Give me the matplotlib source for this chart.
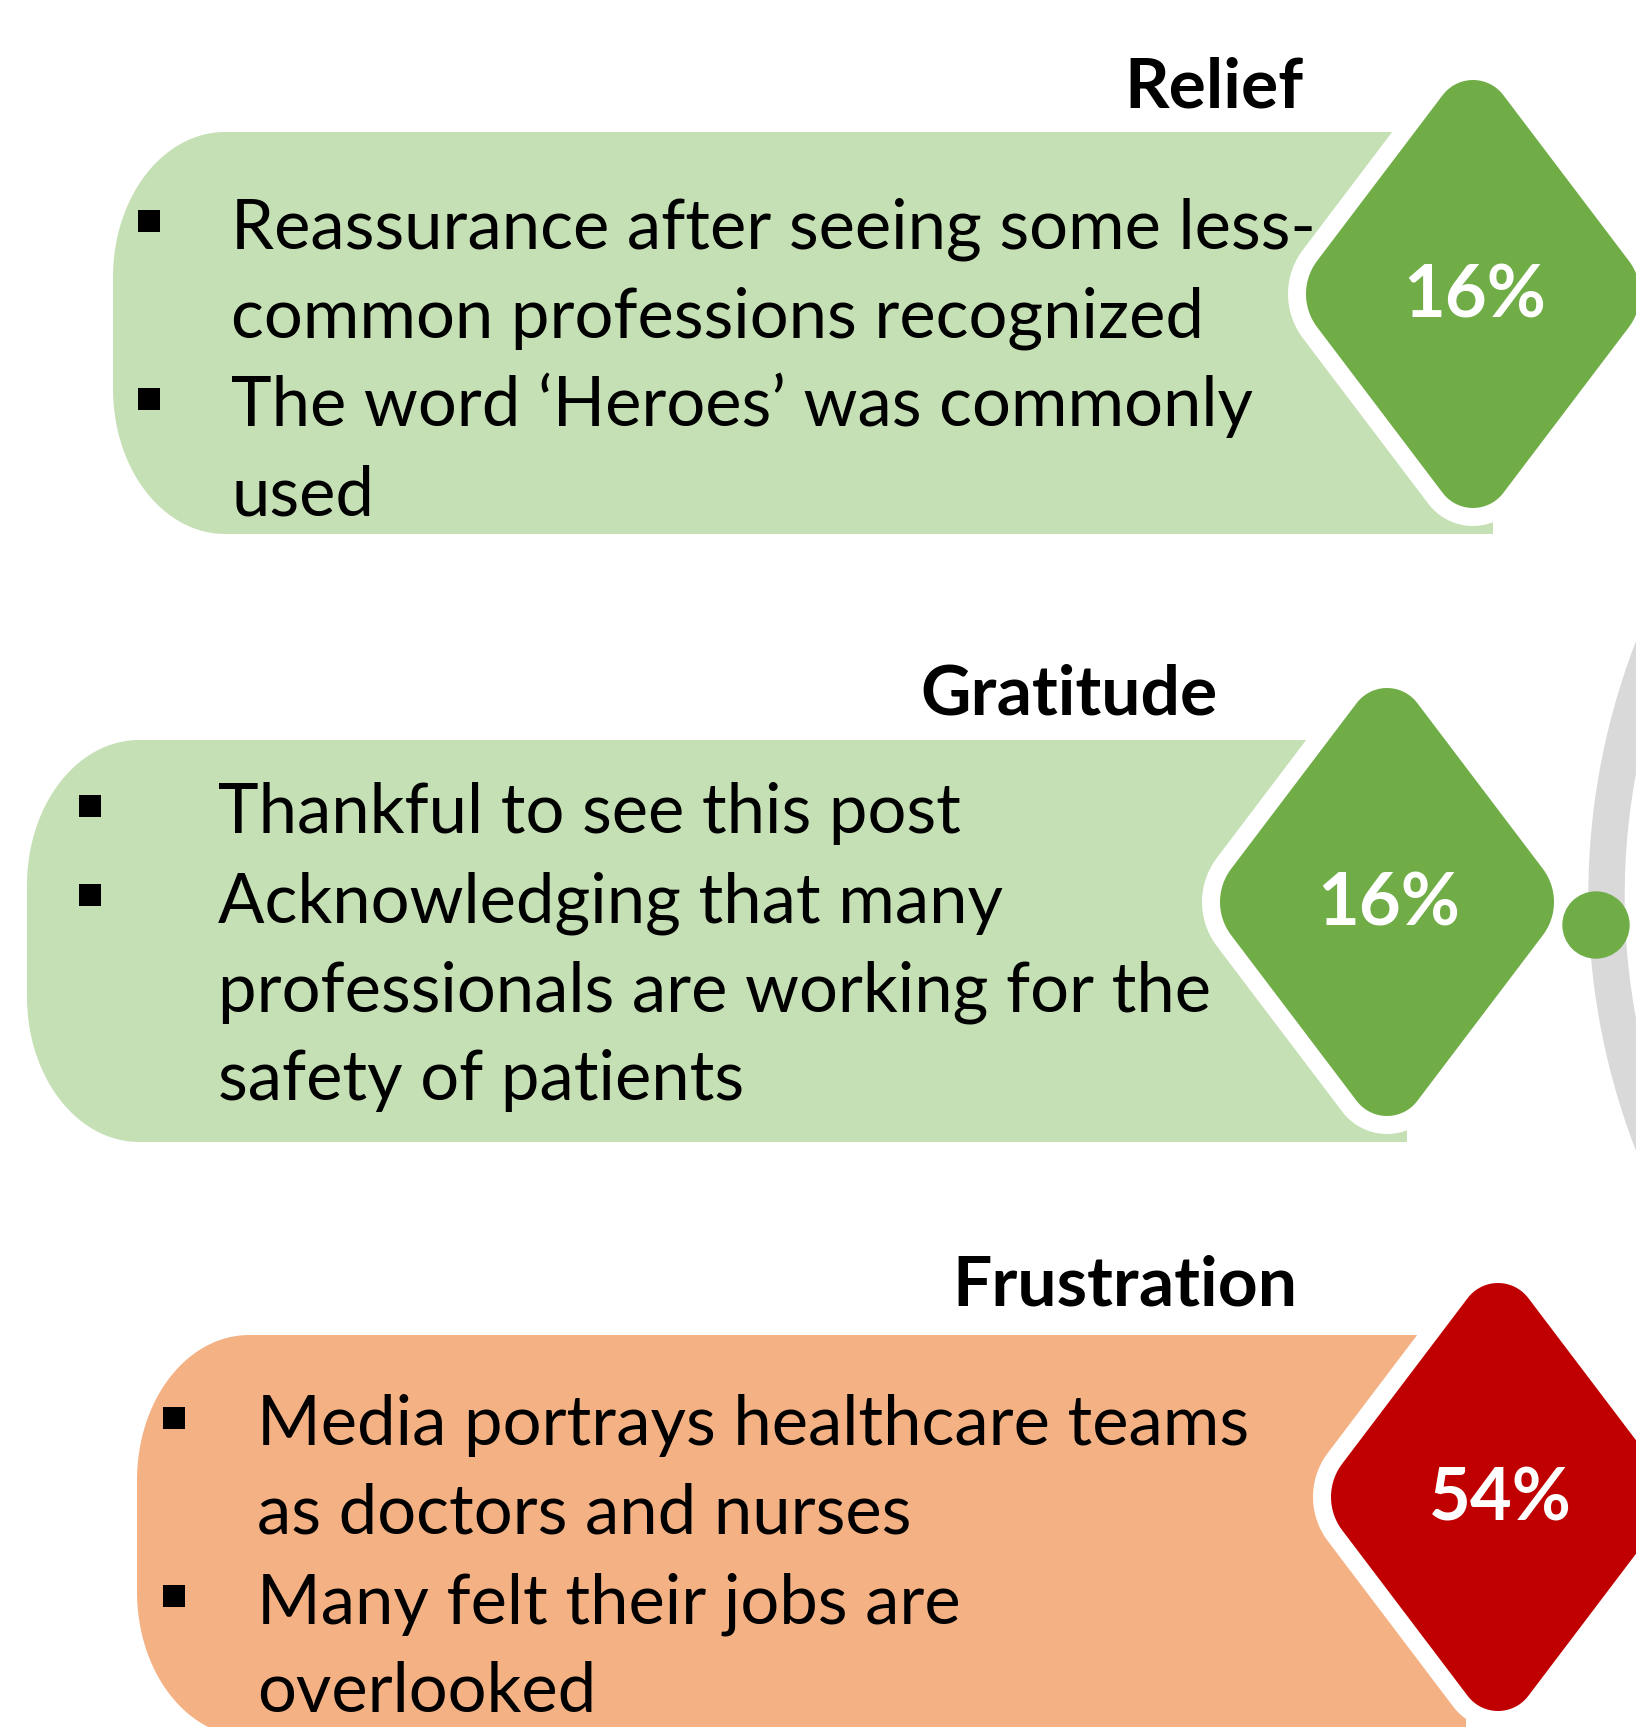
import numpy as np
import matplotlib.pyplot as plt
from matplotlib.patches import Polygon, Rectangle, Circle, Wedge

plt.rcParams['font.family'] = ['Lato', 'DejaVu Sans']

""" Data """
categories = ['Relief', 'Gratitude', 'Frustration']
percents = [16, 16, 54]
bullets = [
    [['Reassurance after seeing some less-', 'common professions recognized'],
     ['The word \u2018Heroes\u2019 was commonly', 'used']],
    [['Thankful to see this post'],
     ['Acknowledging that many', 'professionals are working for the', 'safety of patients']],
    [['Media portrays healthcare teams', 'as doctors and nurses'],
     ['Many felt their jobs are', 'overlooked']],
]
box_colors = ['#C5E0B4', '#C5E0B4', '#F4B183']
diamond_colors = ['#70AD47', '#70AD47', '#C00000']

""" Layout (pixels, y down) """
W, H = 1636, 1727
centers = [(1473, 294), (1387, 902), (1498, 1497)]
box_left = [113, 27, 137]
box_right_off = [20, 20, -32]
title_right = [1303, 1218, 1297]
title_base = [107, 714, 1305]
bullet_x = [149, 90, 174]
text_x = [231, 218, 257]
first_base = [248, 833, 1445]
line_step = 89
ext_w, ext_h = 167, 214   # visible half sizes of the rounded diamond
r_tip, r_side = 38, 55
border = 18


def rounded_polygon(verts, radii, n=24):
    verts = np.asarray(verts, float)
    pts = []
    k = len(verts)
    for i in range(k):
        r = radii[i]
        p = verts[i]
        a = verts[i - 1]
        b = verts[(i + 1) % k]
        u1 = (a - p) / np.linalg.norm(a - p)
        u2 = (b - p) / np.linalg.norm(b - p)
        half = np.arccos(np.clip(np.dot(u1, u2), -1, 1)) / 2
        t = r / np.tan(half)
        bis = (u1 + u2) / np.linalg.norm(u1 + u2)
        c = p + bis * r / np.sin(half)
        t1 = p + u1 * t
        t2 = p + u2 * t
        a1 = np.arctan2(*(t1 - c)[::-1])
        a2 = np.arctan2(*(t2 - c)[::-1])
        d = (a2 - a1 + np.pi) % (2 * np.pi) - np.pi
        ang = a1 + np.linspace(0, d, n)
        pts.append(np.column_stack([c[0] + r * np.cos(ang), c[1] + r * np.sin(ang)]))
    return np.vstack(pts)


def diamond(cx, cy, a, b, rt, rs):
    return rounded_polygon([(cx, cy - b), (cx + a, cy), (cx, cy + b), (cx - a, cy)],
                           [rt, rs, rt, rs])


def left_rounded_box(left, top, right, bottom, rx=112, ry=145, n=30):
    t = np.linspace(0, np.pi / 2, n)
    tl = np.column_stack([left + rx - rx * np.sin(t), top + ry - ry * np.cos(t)])
    bl = np.column_stack([left + rx - rx * np.cos(t), bottom - ry + ry * np.sin(t)])
    return np.vstack([[(right, top)], tl, bl, [(right, bottom)]])


# sharp diamond size so that the rounded one reaches ext_w / ext_h
hw, hh = ext_w, ext_h
for _ in range(60):
    al = np.arctan(hw / hh)
    be = np.arctan(hh / hw)
    hh = ext_h + r_tip * (1 / np.sin(al) - 1)
    hw = ext_w + r_side * (1 / np.sin(be) - 1)
L = np.hypot(hw, hh)
ow = hw + border * L / hh
oh = hh + border * L / hw

fig = plt.figure(figsize=(W / 100, H / 100), dpi=100)
ax = fig.add_axes([0, 0, 1, 1])
ax.set_xlim(0, W)
ax.set_ylim(H, 0)
ax.axis('off')

# grey ring on the right, with the dot
ax.add_patch(Wedge((2293, 896), 704, 0, 360, width=35, color='#D9D9D9', zorder=1))
ax.add_patch(Circle((1596, 925), 33, color='#70AD47', zorder=6))

for i, cat in enumerate(categories):
    cx, cy = centers[i]
    box = left_rounded_box(box_left[i], cy - 162, cx + box_right_off[i], cy + 240)
    ax.add_patch(Polygon(box, closed=True, color=box_colors[i], lw=0, zorder=2))
    # white outline then coloured diamond
    ax.add_patch(Polygon(diamond(cx, cy, ow, oh, r_tip + border, r_side + border),
                         closed=True, color='white', lw=0, zorder=3))
    ax.add_patch(Polygon(diamond(cx, cy, hw, hh, r_tip, r_side), closed=True,
                         color=diamond_colors[i], lw=0, zorder=4))
    ax.text(cx + 2, cy + 3, f'{percents[i]}%', color='white', fontsize=52,
            fontweight='bold', ha='center', va='center', zorder=5)

    ax.text(title_right[i], title_base[i], cat, fontsize=50, fontweight='bold',
            ha='right', va='baseline', zorder=5)

    row = 0
    for item in bullets[i]:
        by = first_base[i] + row * line_step - 27
        ax.add_patch(Rectangle((bullet_x[i] - 11, by - 11), 22, 22, color='black', lw=0, zorder=5))
        for line in item:
            ax.text(text_x[i], first_base[i] + row * line_step, line, fontsize=49.5,
                    ha='left', va='baseline', zorder=5)
            row += 1

fig.savefig('out.png', dpi=100)
